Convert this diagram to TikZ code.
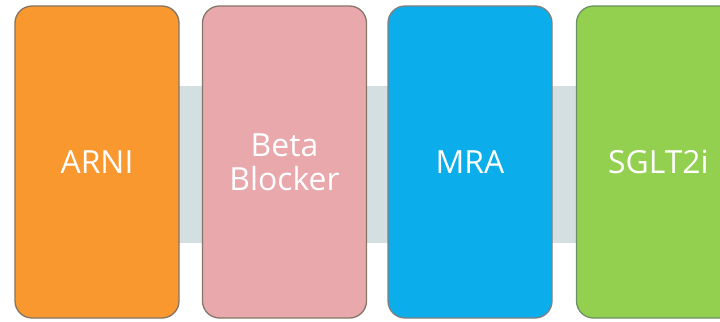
\documentclass[tikz,border=0pt]{standalone}
\usepackage{fontspec}
\setmainfont{Open Sans}
\definecolor{cband}{HTML}{D4DFE2}
\definecolor{corange}{HTML}{F8982F}
\definecolor{cpink}{HTML}{E8A8AC}
\definecolor{cblue}{HTML}{0BAEEA}
\definecolor{cgreen}{HTML}{93D050}
\definecolor{cedge}{HTML}{857565}
\begin{document}
\begin{tikzpicture}[x=1bp,y=1bp,
  card/.style={draw=cedge, line width=1.3bp, rounded corners=17bp,
    minimum width=164bp, minimum height=312bp, inner sep=0pt,
    text=white, align=center, font=\fontsize{32}{34}\selectfont},
  ]
  \useasboundingbox (0,0) rectangle (720,321);
  \clip (0,0) rectangle (720,321);
  \fill[cband] (179,78) rectangle (720,235);
  \node[card, fill=corange] (arni) at (97,159) {ARNI};
  \node[card, fill=cpink, draw=cedge!80!gray] (beta) at (284.5,159) {Beta\\Blocker};
  \node[card, fill=cblue, draw=gray] (mra) at (470,159) {MRA};
  \node[card, fill=cgreen, draw=cedge!60!green!40!gray] (sglt) at (658.5,159) {SGLT2i};
\end{tikzpicture}
\end{document}
